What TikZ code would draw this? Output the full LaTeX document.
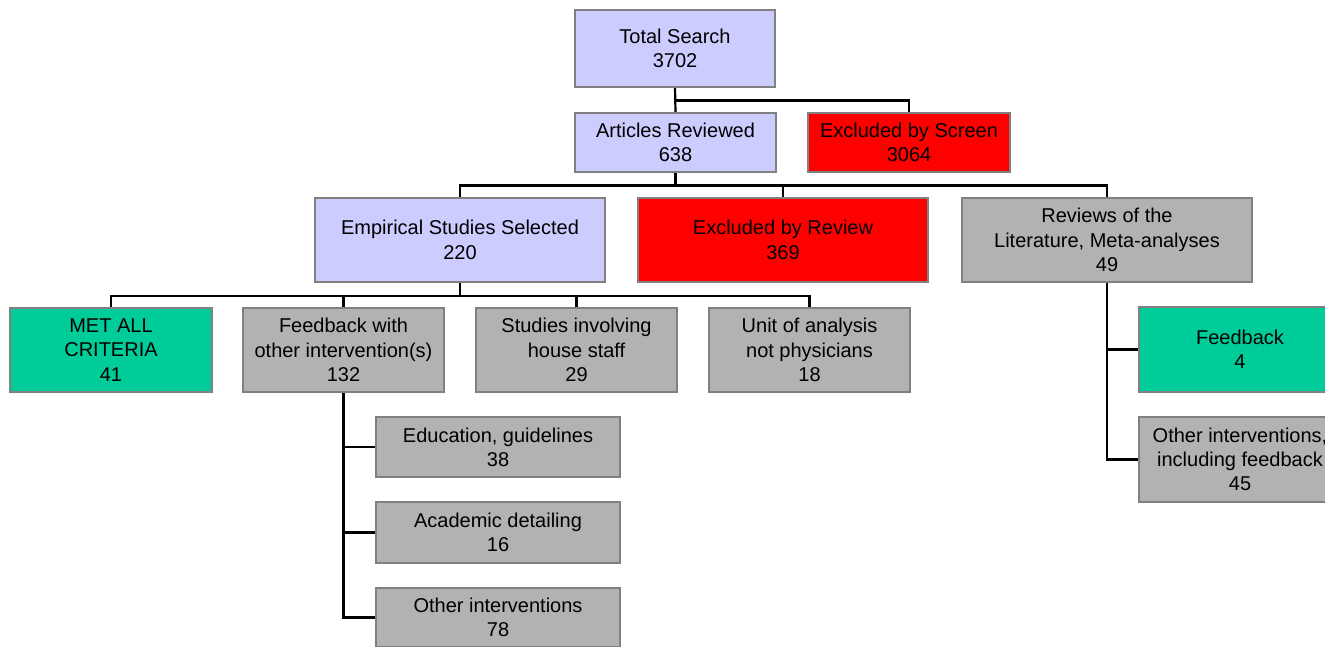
\documentclass[tikz,border=0pt]{standalone}
\usepackage{fontspec}
\setmainfont{Liberation Sans}
\begin{document}
\begin{tikzpicture}[x=1pt,y=-1pt,
  box/.style={draw=boxline, line width=2pt, inner sep=0pt, align=center,
    font=\fontsize{20}{24.3}\selectfont, text=black},
  lav/.style={box, fill=lavender},
  redbox/.style={box, fill=exred},
  grn/.style={box, fill=okgreen},
  gry/.style={box, fill=midgray},
  link/.style={draw=black, line width=2.2pt}]
\definecolor{boxline}{HTML}{808080}
\definecolor{lavender}{HTML}{CCCCFF}
\definecolor{exred}{HTML}{FF0000}
\definecolor{okgreen}{HTML}{00CC99}
\definecolor{midgray}{HTML}{B2B2B2}
\useasboundingbox (0,0) rectangle (1325,647);
\fill[white] (0,0) rectangle (1325,647);

% top levels
\node[lav, minimum width=200pt, minimum height=77pt] (ts) at (675,48.5) {Total Search\\3702};
\node[lav, minimum width=201pt, minimum height=59pt] (ar) at (675.5,142.5) {Articles Reviewed\\638};
\node[redbox, minimum width=202pt, minimum height=59pt] (es) at (909,142.5) {Excluded by Screen\\3064};

% second level
\node[lav, minimum width=290pt, minimum height=84pt] (emp) at (460,240) {Empirical Studies Selected\\220};
\node[redbox, minimum width=290pt, minimum height=84pt] (er) at (783,240) {Excluded by Review\\369};
\node[gry, minimum width=290pt, minimum height=84pt] (rev) at (1107,240) {Reviews of the\\Literature, Meta-analyses\\49};

% third level
\node[grn, minimum width=202pt, minimum height=84pt] (met) at (111,350) {MET ALL\\CRITERIA\\41};
\node[gry, minimum width=201pt, minimum height=84pt] (fw) at (343.5,350) {Feedback with\\other intervention(s)\\132};
\node[gry, minimum width=201pt, minimum height=84pt] (sh) at (576.5,350) {Studies involving\\house staff\\29};
\node[gry, minimum width=201pt, minimum height=84pt] (ua) at (809.5,350) {Unit of analysis\\not physicians\\18};

% breakdown of combined interventions
\node[gry, minimum width=244pt, minimum height=60pt] (ed) at (498,447) {Education, guidelines\\38};
\node[gry, minimum width=244pt, minimum height=61pt] (ad) at (498,532.5) {Academic detailing\\16};
\node[gry, minimum width=244pt, minimum height=59pt] (oi) at (498,617.5) {Other interventions\\78};

% breakdown of reviews
\node[grn, minimum width=202pt, minimum height=85pt] (fb) at (1240,349.5) {Feedback\\4};
\node[gry, minimum width=202pt, minimum height=85pt] (oif) at (1240,459.5) {Other interventions,\\including feedback\\45};

% connectors
\draw[link] (ts.south) -- (ar.north);
\draw[link] (ts.south) -- ++(0,12.5) -| (es.north);

\draw[link] (ar.south) -- ++(0,12.5) coordinate (b1);
\draw[link] (emp.north) |- (b1);
\draw[link] (b1) -| (er.north);
\draw[link] (b1) -| (rev.north);

\draw[link] (emp.south) -- ++(0,13) coordinate (b2);
\draw[link] (met.north) |- (b2);
\draw[link] (fw.north) |- (b2);
\draw[link] (b2) -| (sh.north);
\draw[link] (b2) -| (ua.north);

\draw[link] (fw.south) |- (ed.west);
\draw[link] (fw.south) |- (ad.west);
\draw[link] (fw.south) |- (oi.west);

\draw[link] (rev.south) |- (fb.west);
\draw[link] (rev.south) |- (oif.west);
\end{tikzpicture}
\end{document}
